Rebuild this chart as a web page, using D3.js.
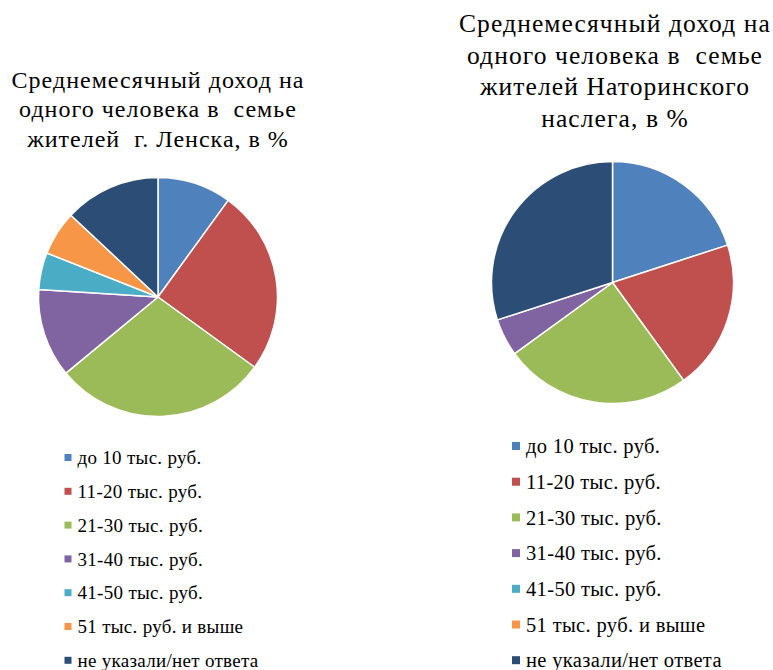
<!DOCTYPE html>
<html>
<head>
<meta charset="utf-8">
<script src="https://cdn.jsdelivr.net/npm/d3@7"></script>
<style>
  body { margin: 0; background: #fff; }
</style>
</head>
<body>
<div id="chart"></div>
<script>
// categories shared by both pies
var categories = [
  'до 10 тыс. руб.',
  '11-20 тыс. руб.',
  '21-30 тыс. руб.',
  '31-40 тыс. руб.',
  '41-50 тыс. руб.',
  '51 тыс. руб. и выше',
  'не указали/нет ответа'
];
var colors = ['#4F81BD', '#C0504D', '#9BBB59', '#8064A2', '#4BACC6', '#F79646', '#2C4D75'];

// shares, %
var lenskValues = [10, 25, 29, 12, 5, 6, 13];
var natorValues = [20, 20, 25, 5, 0, 0, 30];

var lenskTitle = ['Среднемесячный доход на', 'одного человека в  семье', 'жителей  г. Ленска, в %'];
var natorTitle = ['Среднемесячный доход на', 'одного человека в  семье', 'жителей Наторинского', 'наслега, в %'];

var FONT = "'Liberation Serif', 'Times New Roman', serif";
var width = 773, height = 670;
var svg = d3.select('#chart').append('svg')
  .attr('width', width)
  .attr('height', height)
  .style('font-family', FONT);

var color = d3.scaleOrdinal().domain(categories).range(colors);

function drawPie(opts) {
  var g = svg.append('g');

  // title
  g.append('text')
    .attr('text-anchor', 'middle')
    .attr('fill', '#000')
    .style('font-size', opts.titleSize + 'px')
    .style('letter-spacing', opts.titleLs + 'px')
    .style('white-space', 'pre')
    .selectAll('tspan')
    .data(opts.title)
    .join('tspan')
      .attr('x', opts.cx)
      .attr('y', function(d, i) { return opts.titleY + i * opts.titleStep; })
      .text(function(d) { return d; });

  // pie
  var data = categories.map(function(c, i) { return {name: c, value: opts.values[i]}; });
  var pie = d3.pie().sort(null).value(function(d) { return d.value; });
  var arc = d3.arc().innerRadius(0).outerRadius(opts.r);

  g.append('g')
    .attr('transform', 'translate(' + opts.pcx + ',' + opts.cy + ')')
    .selectAll('path')
    .data(pie(data).filter(function(d) { return d.data.value > 0; }))
    .join('path')
      .attr('d', arc)
      .attr('fill', function(d) { return color(d.data.name); })
      .attr('stroke', '#fff')
      .attr('stroke-width', 1.5)
      .attr('stroke-linejoin', 'round');

  // legend
  var leg = g.append('g')
    .selectAll('g')
    .data(categories)
    .join('g')
      .attr('transform', function(d, i) {
        return 'translate(' + opts.legX + ',' + (opts.legY + i * opts.legStep) + ')';
      });

  leg.append('rect')
    .attr('x', 0)
    .attr('y', -opts.box / 2)
    .attr('width', opts.box)
    .attr('height', opts.box)
    .attr('fill', function(d) { return color(d); });

  leg.append('text')
    .attr('x', opts.textX)
    .attr('dy', '0.35em')
    .attr('fill', '#000')
    .style('font-size', opts.legSize + 'px')
    .style('letter-spacing', opts.legLs + 'px')
    .text(function(d) { return d; });
}

drawPie({
  values: lenskValues, title: lenskTitle,
  cx: 158, pcx: 158, cy: 297, r: 119.5,
  titleY: 88, titleStep: 29.3, titleSize: 24, titleLs: 1,
  legX: 64.5, legY: 457.5, legStep: 33.8, box: 7, textX: 13, legSize: 19, legLs: 0.3
});

drawPie({
  values: natorValues, title: natorTitle,
  cx: 615, pcx: 612.5, cy: 282.5, r: 121,
  titleY: 32, titleStep: 31.5, titleSize: 25.5, titleLs: 1.1,
  legX: 512, legY: 446, legStep: 35.7, box: 8, textX: 14, legSize: 20.5, legLs: 0.35
});
</script>
</body>
</html>
